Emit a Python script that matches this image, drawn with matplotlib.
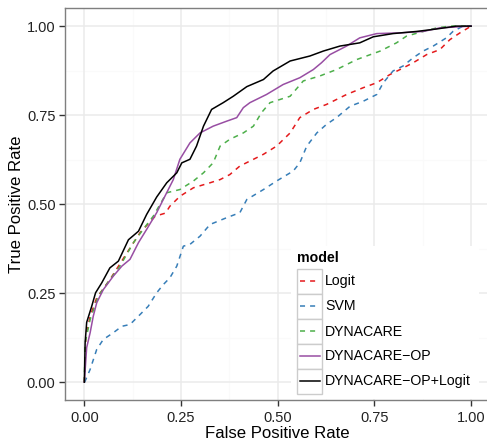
import matplotlib
matplotlib.use('Agg')
import matplotlib.pyplot as plt
from matplotlib.patches import Rectangle

plt.rcParams['font.family'] = ['Liberation Sans', 'DejaVu Sans']

# ROC curves
logit_fpr = [0, 0.004, 0.015, 0.032, 0.066, 0.11, 0.144, 0.183, 0.21, 0.221, 0.247, 0.282, 0.325,
             0.351, 0.376, 0.402, 0.428, 0.463, 0.497, 0.532, 0.557, 0.592, 0.626, 0.678, 0.721,
             0.756, 0.79, 0.816, 0.85, 0.885, 0.919, 0.945, 0.971, 1.0]
logit_tpr = [0, 0.129, 0.185, 0.237, 0.288, 0.363, 0.42, 0.466, 0.475, 0.494, 0.522, 0.546, 0.56,
             0.569, 0.583, 0.607, 0.621, 0.64, 0.663, 0.70, 0.743, 0.766, 0.78, 0.808, 0.827,
             0.841, 0.864, 0.878, 0.897, 0.92, 0.934, 0.962, 0.981, 1.0]

svm_fpr = [0, 0.002, 0.015, 0.032, 0.049, 0.075, 0.097, 0.118, 0.144, 0.165, 0.187, 0.204, 0.221,
           0.239, 0.256, 0.273, 0.299, 0.325, 0.368, 0.402, 0.42, 0.463, 0.497, 0.54, 0.557, 0.575,
           0.601, 0.626, 0.652, 0.687, 0.721, 0.756, 0.773, 0.798, 0.824, 0.85, 0.876, 0.902,
           0.936, 0.953, 0.979, 1.0]
svm_tpr = [0, 0.003, 0.036, 0.092, 0.12, 0.139, 0.157, 0.162, 0.19, 0.213, 0.251, 0.274, 0.293,
           0.326, 0.382, 0.387, 0.41, 0.443, 0.462, 0.476, 0.513, 0.541, 0.565, 0.593, 0.616, 0.663,
           0.70, 0.724, 0.743, 0.775, 0.789, 0.808, 0.841, 0.874, 0.888, 0.911, 0.93, 0.944,
           0.967, 0.985, 1.0, 1.0]

dyna_fpr = [0, 0.002, 0.015, 0.036, 0.066, 0.092, 0.127, 0.152, 0.178, 0.213, 0.247, 0.282, 0.308,
            0.333, 0.351, 0.376, 0.411, 0.437, 0.458, 0.48, 0.532, 0.566, 0.609, 0.652, 0.704,
            0.765, 0.807, 0.833, 0.876, 0.911, 0.945, 1.0]
dyna_tpr = [0, 0.11, 0.176, 0.242, 0.288, 0.326, 0.392, 0.429, 0.466, 0.532, 0.541, 0.565, 0.588,
            0.616, 0.663, 0.682, 0.70, 0.719, 0.757, 0.785, 0.803, 0.846, 0.86, 0.878, 0.906,
            0.93, 0.953, 0.972, 0.985, 0.995, 1.0, 1.0]

op_fpr = [0, 0.006, 0.015, 0.023, 0.032, 0.049, 0.075, 0.097, 0.118, 0.14, 0.161, 0.187, 0.204,
          0.23, 0.247, 0.273, 0.299, 0.333, 0.368, 0.394, 0.411, 0.428, 0.471, 0.514, 0.557,
          0.592, 0.613, 0.635, 0.678, 0.712, 0.756, 0.816, 0.876, 0.919, 1.0]
op_tpr = [0, 0.097, 0.139, 0.185, 0.223, 0.26, 0.298, 0.326, 0.345, 0.392, 0.429, 0.476, 0.513,
          0.569, 0.626, 0.672, 0.70, 0.719, 0.733, 0.743, 0.771, 0.785, 0.808, 0.836, 0.855,
          0.878, 0.897, 0.92, 0.944, 0.967, 0.979, 0.981, 0.985, 0.995, 1.0]

comb_fpr = [0, 0.002, 0.006, 0.019, 0.029, 0.045, 0.066, 0.088, 0.114, 0.14, 0.161, 0.187, 0.213,
            0.239, 0.252, 0.273, 0.29, 0.308, 0.329, 0.359, 0.385, 0.42, 0.463, 0.488, 0.532,
            0.583, 0.618, 0.661, 0.712, 0.747, 0.798, 0.859, 0.911, 0.962, 1.0]
comb_tpr = [0, 0.11, 0.168, 0.213, 0.251, 0.279, 0.321, 0.34, 0.40, 0.424, 0.471, 0.52, 0.56,
            0.588, 0.616, 0.626, 0.663, 0.719, 0.766, 0.785, 0.803, 0.83, 0.85, 0.874, 0.902,
            0.916, 0.93, 0.944, 0.953, 0.97, 0.979, 0.985, 0.992, 1.0, 1.0]

models = ["Logit", "SVM", "DYNACARE", "DYNACARE\u2212OP", "DYNACARE\u2212OP+Logit"]
colors = ["#E41A1C", "#377EB8", "#4DAF4A", "#984EA3", "#000000"]
dashed = [True, True, True, False, False]
curves = [(logit_fpr, logit_tpr), (svm_fpr, svm_tpr), (dyna_fpr, dyna_tpr),
          (op_fpr, op_tpr), (comb_fpr, comb_tpr)]
ticks = [0.0, 0.25, 0.5, 0.75, 1.0]
tick_labels = ["0.00", "0.25", "0.50", "0.75", "1.00"]

W, H = 487, 442
fig = plt.figure(figsize=(W / 100, H / 100), dpi=100)


def box(x0, y0, x1, y1):
    # pixel box (y from top) -> figure fraction rect
    return [x0 / W, 1 - y1 / H, (x1 - x0) / W, (y1 - y0) / H]


ax = fig.add_axes(box(65, 8.3, 490.5, 400))
ax.set_xlim(-0.05, 1.05)
ax.set_ylim(-0.05, 1.05)

# grid like theme_bw
for v in [0.125, 0.375, 0.625, 0.875]:
    ax.axvline(v, color="#FAFAFA", lw=0.8, zorder=0)
    ax.axhline(v, color="#FAFAFA", lw=0.8, zorder=0)
for v in ticks:
    ax.axvline(v, color="#EBEBEB", lw=1.1, zorder=0)
    ax.axhline(v, color="#EBEBEB", lw=1.1, zorder=0)

for (fx, ty), c, d in zip(curves, colors, dashed):
    ln, = ax.plot(fx, ty, color=c, lw=1.1, zorder=2)
    if d:
        ln.set_dashes((3.3, 3.3))

for s in ax.spines.values():
    s.set_color("#7F7F7F")
    s.set_linewidth(1.0)

ax.set_xticks(ticks)
ax.set_xticklabels(tick_labels)
ax.set_yticks(ticks)
ax.set_yticklabels(tick_labels)
ax.tick_params(length=4.3, width=1, color="#333333", labelsize=10.5, labelcolor="#222222")
ax.tick_params(axis="x", pad=3.5)
ax.tick_params(axis="y", pad=2.5)
ax.set_xlabel("False Positive Rate", fontsize=12.1, labelpad=1)
ax.set_ylabel("True Positive Rate", fontsize=12.1, labelpad=2)

# legend drawn in pixel units
lg = fig.add_axes(box(291, 246, 479, 399))
lg.set_xlim(291, 479)
lg.set_ylim(399, 246)
lg.axis("off")
lg.add_patch(Rectangle((291, 246), 188, 153, facecolor="white", edgecolor="none", zorder=0))
lg.text(297, 258, "model", fontsize=10.2, fontweight="bold", va="center", ha="left")
for i, (m, c, d) in enumerate(zip(models, colors, dashed)):
    top = 268.5 + i * 25
    lg.add_patch(Rectangle((297.3, top), 24.3, 25, facecolor="white",
                           edgecolor="#CCCCCC", lw=1.0, zorder=1))
    ln, = lg.plot([299.5, 319.5], [top + 12.5, top + 12.5], color=c, lw=1.1, zorder=2)
    if d:
        ln.set_dashes((3.3, 3.3))
    lg.text(325, top + 13, m, fontsize=10.2, va="center", ha="left")

fig.savefig("out.png", dpi=100)
